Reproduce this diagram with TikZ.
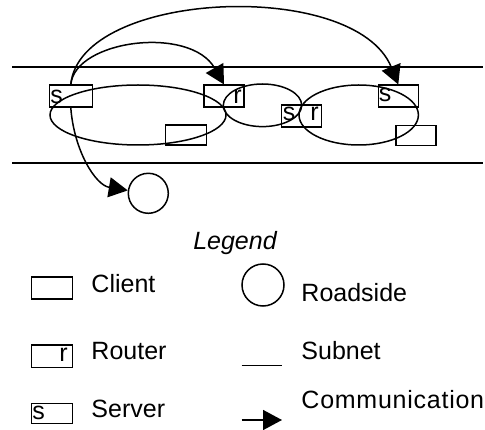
\documentclass[tikz,border=0pt]{standalone}
\usepackage{fontspec}
\setmainfont{Liberation Sans}
\usetikzlibrary{arrows.meta}
\tikzset{
  every picture/.style={line width=1.5pt},
  label text/.style={inner sep=0pt, anchor=base west, font=\fontsize{25}{30}\selectfont},
  tag/.style={inner sep=0pt, font=\fontsize{25}{30}\selectfont},
  box/.style={draw, rectangle, inner sep=0pt, minimum width=40pt, minimum height=22pt},
  roadside/.style={draw, circle, inner sep=0pt, minimum size=40pt},
  comm/.style={-{Triangle[length=19pt,width=20pt]}},
}
\begin{document}
\begin{tikzpicture}[x=1pt, y=-1pt]
\useasboundingbox (0,0) rectangle (485,430);

% subnet boundaries
\coordinate (t1) at (12,67);   \coordinate (t2) at (483,67);
\coordinate (b1) at (12,163);  \coordinate (b2) at (483,163);
\draw (t1) -- (t2);
\draw (b1) -- (b2);

% the three subnets
\draw (138,115) ellipse [x radius=88, y radius=30];
\draw (262.5,105.3) ellipse [x radius=39.2, y radius=21.3];
\draw (358.7,115) ellipse [x radius=59.7, y radius=30];

% hosts
\node[box, minimum width=43pt] (s1) at (70.8,96.2) {};
\node[box] (r1) at (224,96.2) {};
\node[box, minimum width=41pt, minimum height=20pt] (c1) at (186,135) {};
\node[box] (sr) at (301.7,116.2) {};
\node[box] (s2) at (398.3,96.2) {};
\node[box, minimum height=20pt] (c2) at (416,135.7) {};
\node[roadside] (road) at (148.3,193.3) {};

% host tags
\node[tag, anchor=base west] (s1t) at (49.5,103.3) {s};
\node[tag, anchor=base east] (r1t) at (242.5,103.3) {r};
\node[tag, anchor=base west] (srs) at (282,120.7) {s};
\node[tag, anchor=base west] (srr) at (309.5,120.7) {r};
\node[tag, anchor=base west] (s2t) at (378,101.7) {s};

% communications
\draw[comm] (s1.north) .. controls (80,-10) and (355,-22) .. (s2.north);
\draw[comm] (s1.north) .. controls (75,40) and (190,25) .. (r1.north);
\draw[comm] (s1.south) .. controls (74,150) and (95,185) .. (road.172);

% legend
\node[inner sep=0pt, anchor=base, font=\fontsize{25}{30}\selectfont\itshape] (legend) at (235,249.3) {Legend};

\node[box, minimum width=40.6pt] (lc) at (52,288) {};
\node[label text] (lct) at (90.7,293) {Client};

\node[box, minimum width=40.6pt, minimum height=22.7pt] (lr) at (52,356.3) {};
\node[tag, anchor=base west] (lrr) at (58.5,361.7) {r};
\node[label text] (lrt) at (90.7,359.3) {Router};

\node[box, minimum width=40.6pt, minimum height=20pt] (ls) at (52,413.3) {};
\node[tag, anchor=base west] (lss) at (31.5,420) {s};
\node[label text] (lst) at (90.7,417.7) {Server};

\node[roadside, minimum size=42pt] (lroad) at (263,285) {};
\node[label text] (lroadt) at (300.7,301.7) {Roadside};

\coordinate (ln1) at (241.7,365.7); \coordinate (ln2) at (281.7,365.7);
\draw (ln1) -- (ln2);
\node[label text] (lnt) at (300.7,359.3) {Subnet};

\coordinate (la1) at (241.7,420); \coordinate (la2) at (282,420);
\draw[comm] (la1) -- (la2);
\node[label text, font=\fontsize{25}{30}\selectfont\addfontfeature{LetterSpace=3}] (lat) at (300.7,408.3) {Communication};
\end{tikzpicture}
\end{document}
